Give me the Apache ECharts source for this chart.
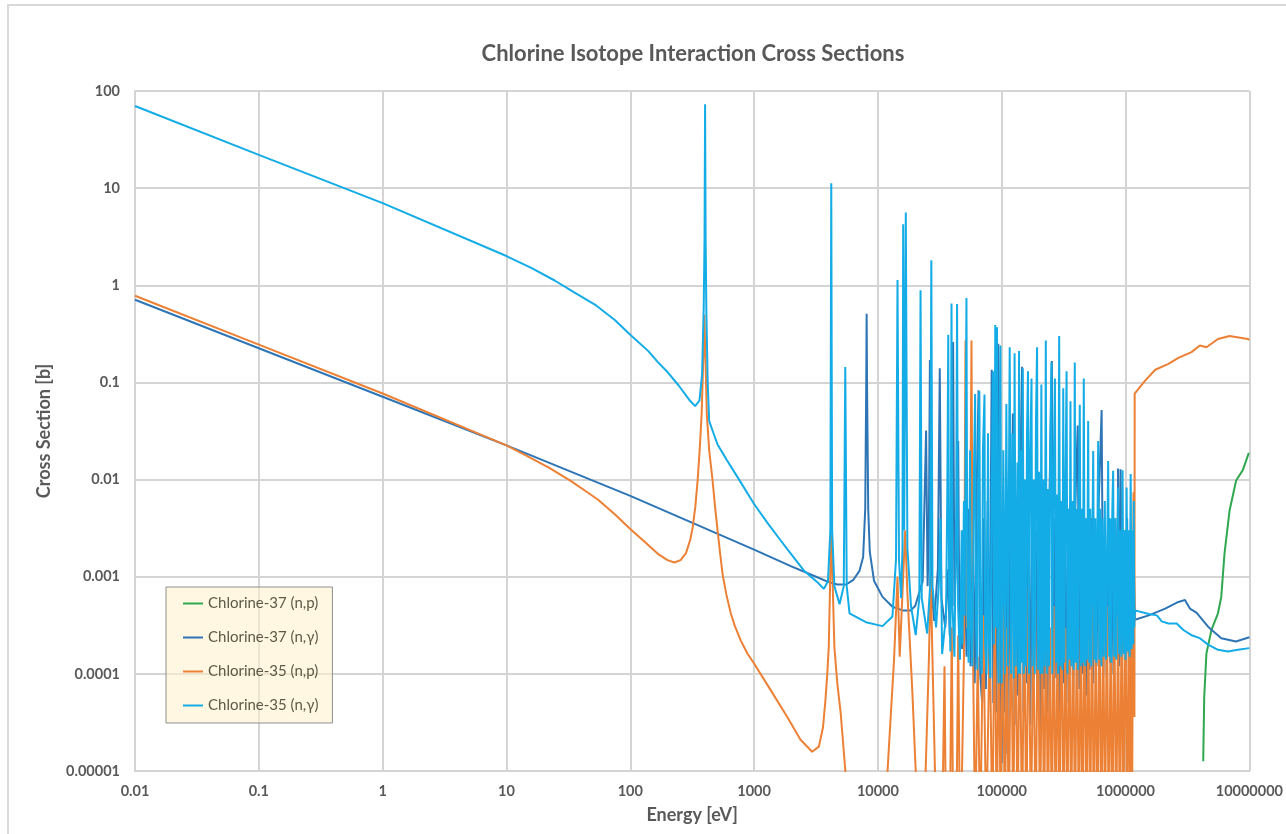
<!DOCTYPE html>
<html lang="en">
<head>
<meta charset="UTF-8">
<title>Chlorine Isotope Interaction Cross Sections</title>
<script src="https://cdn.jsdelivr.net/npm/echarts@6/dist/echarts.min.js"></script>
<style>
  html, body { margin: 0; padding: 0; background: #fff; }
  #chart { width: 1286px; height: 834px; }
</style>
</head>
<body>
<div id="chart"></div>
<script>
// legend / series names, in the order used by the original chart
var seriesNames = ['Chlorine-37 (n,p)', 'Chlorine-37 (n,γ)', 'Chlorine-35 (n,p)', 'Chlorine-35 (n,γ)'];

var xTickLabels = ['0.01', '0.1', '1', '10', '100', '1000', '10000', '100000', '1000000', '10000000'];
var yTickLabels = ['0.00001', '0.0001', '0.001', '0.01', '0.1', '1', '10', '100'];

// [energy eV, cross section b]
var cl37np = [
  [4.24e6, 1.26e-5], [4.32e6, 5.8e-5], [4.5e6, 1.62e-4], [4.94e6, 2.83e-4], [5.58e6, 4.2e-4],
  [5.93e6, 6.2e-4], [6.3e6, 1.74e-3], [6.92e6, 4.8e-3], [7.82e6, 9.8e-3], [8.85e6, 0.0125], [9.9e6, 0.0188]
];

var cl37ng = [
  [0.01, 0.71], [0.1, 0.225], [1, 0.0712], [10, 0.0225], [100, 0.0068], [1000, 0.0019], [2000, 0.00128],
  [3000, 0.00103], [4000, 0.00088], [4700, 0.00083], [5500, 0.00083], [6300, 0.00092], [7100, 0.00115],
  [7600, 0.0016], [7900, 0.005], [8050, 0.1], [8110, 0.51], [8170, 0.1], [8350, 0.005], [8600, 0.0018],
  [9300, 0.00091], [10900, 0.00062], [13100, 0.00049], [15800, 0.00045], [18400, 0.00045], [20000, 0.0005],
  [23000, 0.0009], [24500, 0.032], [25200, 0.0008], [25800, 0.003], [26300, 0.17], [26900, 0.0008],
  [28500, 0.00035], [30500, 0.0012], [31600, 0.14], [32600, 0.0006], [35000, 0.0003], [37000, 0.0012],
  [38000, 0.00025], [39500, 0.003], [40500, 0.26], [41500, 0.0005], [43500, 0.003], [44500, 0.025],
  [45500, 0.0003], [48000, 0.00018], [50000, 0.002], [52000, 0.00015], [54500, 0.005], [56000, 0.00012],
  [58500, 0.003], [60500, 0.00008], [63000, 0.01], [65000, 0.083], [67000, 0.0001], [69500, 0.00005],
  [72000, 0.004], [74500, 0.00007], [77000, 0.006], [79500, 0.00006], [83000, 0.135], [85500, 0.00005],
  [88000, 0.004], [90500, 0.00004], [93700, 0.25], [96000, 0.26], [98000, 0.00003], [1.00e5, 0.000012],
  [1.02e5, 0.002], [1.05e5, 0.00004], [1.08e5, 0.005], [1.11e5, 0.000015], [1.14e5, 0.003], [1.18e5, 0.00005],
  [1.23e5, 0.048], [1.27e5, 0.00003], [1.31e5, 0.004], [1.35e5, 0.00006], [1.40e5, 0.006], [1.46e5, 0.145],
  [1.50e5, 0.00004], [1.55e5, 0.003], [1.60e5, 0.00008], [1.65e5, 0.005], [1.70e5, 0.00003], [1.76e5, 0.004],
  [1.82e5, 0.00009], [1.88e5, 0.003], [1.94e5, 0.00005], [2.00e5, 0.006], [2.06e5, 0.000025], [2.13e5, 0.004],
  [2.20e5, 0.00007], [2.27e5, 0.003], [2.34e5, 0.00004], [2.42e5, 0.005], [2.54e5, 0.166], [2.60e5, 0.00005],
  [2.68e5, 0.004], [2.76e5, 0.00009], [2.85e5, 0.003], [2.94e5, 0.00004], [3.03e5, 0.004], [3.13e5, 0.00008],
  [3.23e5, 0.003], [3.33e5, 0.00005], [3.44e5, 0.005], [3.55e5, 0.0001], [3.66e5, 0.003], [3.78e5, 0.00006],
  [3.90e5, 0.004], [4.11e5, 0.036], [4.24e5, 0.00007], [4.38e5, 0.003], [4.52e5, 0.0001], [4.66e5, 0.004],
  [4.81e5, 0.00006], [4.97e5, 0.003], [5.13e5, 0.00011], [5.30e5, 0.004], [5.47e5, 0.00008], [5.65e5, 0.003],
  [5.83e5, 0.00012], [6.02e5, 0.004], [6.41e5, 0.052], [6.62e5, 0.0001], [6.83e5, 0.003], [7.05e5, 0.00009],
  [7.28e5, 0.004], [7.50e5, 0.00013], [7.74e5, 0.003], [7.99e5, 0.0001], [8.25e5, 0.004], [8.52e5, 0.00015],
  [8.70e5, 0.013], [8.90e5, 0.00012], [9.12e5, 0.0128], [9.40e5, 0.00014], [9.70e5, 0.003], [1.00e6, 0.00012],
  [1.03e6, 0.004], [1.06e6, 0.00016], [1.10e6, 0.003], [1.14e6, 0.00018], [1.16e6, 0.002], [1.19e6, 0.00036],
  [1.54e6, 0.0004], [2.09e6, 0.00047], [2.67e6, 0.00055], [3.02e6, 0.000575], [3.31e6, 0.00047],
  [3.74e6, 0.000427], [4.64e6, 0.000306], [5.93e6, 0.000233], [7.8e6, 0.000215], [1e7, 0.000238]
];

var cl35np = [
  [0.01, 0.78], [0.1, 0.245], [1, 0.077], [10, 0.0225], [15, 0.0172], [22, 0.0133], [33, 0.0097],
  [45, 0.0074], [55, 0.0062], [75, 0.0044], [100, 0.0031], [130, 0.0023], [167, 0.00172], [200, 0.00148],
  [227, 0.0014], [255, 0.00148], [282, 0.00175], [305, 0.0024], [319, 0.0032], [335, 0.0052], [350, 0.0098],
  [365, 0.022], [377, 0.047], [390, 0.2], [396, 0.5], [404, 0.2], [415, 0.047], [434, 0.02], [462, 0.0098],
  [485, 0.0051], [507, 0.003], [530, 0.0018], [556, 0.00107], [598, 0.00065], [648, 0.00042], [700, 0.00031],
  [781, 0.00022], [883, 0.000162], [1000, 0.000128], [1361, 0.000068], [1853, 0.000036], [2372, 0.000021],
  [2944, 0.0000158], [3333, 0.0000178], [3600, 0.000028], [3770, 0.000054], [3900, 0.0001], [4010, 0.00019],
  [4150, 0.0015], [4200, 0.0027], [4260, 0.0015], [4450, 0.00019], [4700, 0.00008], [5000, 0.00004],
  [5460, 0.00001], [6000, 0.000002],
  [11000, 0.000002], [11960, 0.00001], [13500, 0.00014], [14400, 0.001], [15000, 0.00015], [16000, 0.001],
  [16600, 0.003], [17300, 0.00068], [19000, 0.000063], [20200, 0.00001], [21000, 0.000002],
  [24000, 0.000002], [24300, 0.00001], [25800, 0.00014], [26700, 0.001], [27600, 0.00014], [28900, 0.00001],
  [30000, 0.000002], [33000, 0.000002], [34500, 0.00012], [35500, 0.000002], [38000, 0.000002],
  [39500, 0.0003], [40500, 0.000002], [43000, 0.000002], [44500, 0.00025], [46000, 0.000002],
  [47800, 0.00001], [49500, 0.00015], [51000, 0.27], [52500, 0.0003], [55000, 0.0003], [57000, 0.27],
  [58500, 0.0002], [61000, 0.000002], [64000, 0.00015], [67000, 0.000002], [71000, 0.0004],
  [75000, 0.000002], [80000, 0.0003], [84000, 0.000002], [88000, 0.0008], [91000, 0.000002],
  [95000, 0.0003], [98000, 0.000002], [1.02e5, 0.0005], [1.06e5, 0.000002], [1.10e5, 0.0003],
  [1.14e5, 0.000002], [1.19e5, 0.0006], [1.24e5, 0.000002], [1.29e5, 0.001], [1.34e5, 0.000002],
  [1.40e5, 0.0004], [1.46e5, 0.000002], [1.52e5, 0.0005], [1.58e5, 0.000002], [1.65e5, 0.0008],
  [1.72e5, 0.000002], [1.80e5, 0.0003], [1.88e5, 0.000002], [1.96e5, 0.0006], [2.04e5, 0.000002],
  [2.12e5, 0.0004], [2.20e5, 0.000002], [2.28e5, 0.0007], [2.36e5, 0.000002], [2.45e5, 0.0003],
  [2.54e5, 0.000002], [2.63e5, 0.0005], [2.73e5, 0.000002], [2.83e5, 0.0004], [2.93e5, 0.000002],
  [3.04e5, 0.0008], [3.15e5, 0.000002], [3.27e5, 0.0003], [3.39e5, 0.000002], [3.51e5, 0.0006],
  [3.64e5, 0.000002], [3.77e5, 0.0004], [3.91e5, 0.000002], [4.05e5, 0.0005], [4.20e5, 0.000002],
  [4.35e5, 0.0003], [4.50e5, 0.000002], [4.66e5, 0.0007], [4.83e5, 0.000002], [5.00e5, 0.0004],
  [5.18e5, 0.000002], [5.36e5, 0.0005], [5.55e5, 0.000002], [5.75e5, 0.0003], [5.95e5, 0.000002],
  [6.16e5, 0.0006], [6.38e5, 0.000002], [6.60e5, 0.0004], [6.83e5, 0.000002], [7.07e5, 0.0005],
  [7.32e5, 0.000002], [7.58e5, 0.0003], [7.84e5, 0.000002], [8.11e5, 0.0006], [8.40e5, 0.000002],
  [8.70e5, 0.0004], [9.00e5, 0.000002], [9.30e5, 0.0005], [9.62e5, 0.000002], [9.95e5, 0.001],
  [1.03e6, 0.000002], [1.06e6, 0.0003], [1.09e6, 0.000003], [1.11e6, 0.002], [1.13e6, 0.000005],
  [1.16e6, 0.0074], [1.17e6, 0.00004], [1.18e6, 0.000036], [1.185e6, 0.0766], [1.445e6, 0.105],
  [1.74e6, 0.135], [2.22e6, 0.155], [2.67e6, 0.179], [3.41e6, 0.205], [3.98e6, 0.24], [4.5e6, 0.23],
  [5.58e6, 0.28], [6.92e6, 0.30], [9.7e6, 0.28], [1e7, 0.275]
];

var cl35ng = [
  [0.01, 70], [0.1, 22], [1, 7.0], [10, 2.0], [16, 1.5], [24.5, 1.12], [35, 0.85], [53, 0.62], [75, 0.44],
  [100, 0.31], [140, 0.21], [167, 0.162], [200, 0.128], [246, 0.093], [300, 0.066], [334, 0.057],
  [362, 0.065], [380, 0.12], [392, 0.6], [398, 3], [402, 73], [406, 3], [412, 0.5], [422, 0.1], [434, 0.04],
  [470, 0.03], [507, 0.023], [600, 0.016], [735, 0.0106], [1000, 0.0056], [1300, 0.0035], [1640, 0.00236],
  [2000, 0.0017], [2520, 0.00116], [3300, 0.00086], [3660, 0.00075], [3950, 0.0009], [4130, 0.003],
  [4200, 11.2], [4270, 0.003], [4450, 0.0008], [4900, 0.00052], [5300, 0.0008], [5450, 0.144],
  [5600, 0.0008], [5900, 0.00042], [8000, 0.00034], [10900, 0.00031], [13100, 0.00039], [14000, 0.0015],
  [14400, 1.13], [14800, 0.0015], [15400, 0.0006], [15800, 0.002], [16000, 4.25], [16300, 0.003],
  [16800, 5.6], [17300, 0.002], [18500, 0.0005], [20200, 0.00025], [21600, 0.0006], [22100, 0.89],
  [22600, 0.0006], [25000, 0.00026], [26400, 0.0008], [27000, 1.81], [27600, 0.0008], [29500, 0.0003],
  [31000, 0.0008], [32000, 0.004], [33000, 0.00016], [35500, 0.0004], [36300, 0.006], [37000, 0.31],
  [37600, 0.0006], [38500, 0.00017], [39300, 0.65], [40000, 0.0005], [41500, 0.00015], [42800, 0.004],
  [43600, 0.64], [44400, 0.0005], [46000, 0.00014], [47500, 0.003], [48200, 0.0002], [49500, 0.006],
  [50200, 0.0004], [51900, 0.74], [52800, 0.0004], [54000, 0.00013], [55500, 0.02], [56500, 0.0003],
  [58000, 0.00012], [59500, 0.01], [61000, 0.076], [62000, 0.0003], [63500, 0.00011], [65000, 0.03],
  [66000, 0.081], [67200, 0.0002], [69000, 0.0001], [70500, 0.02], [72600, 0.075], [73500, 0.0002],
  [75500, 0.0001], [77500, 0.03], [79000, 0.0002], [81000, 0.00009], [83000, 0.008], [85000, 0.13],
  [86500, 0.0002], [88700, 0.39], [90000, 0.0003], [91600, 0.37], [93000, 0.0002], [94500, 0.00008],
  [96000, 0.03], [97600, 0.24], [99000, 0.0002],
  [1.00e5, 0.00008], [1.03e5, 0.02], [1.06e5, 0.0001], [1.09e5, 0.06], [1.12e5, 0.00012], [1.16e5, 0.23],
  [1.19e5, 0.0001], [1.22e5, 0.03], [1.25e5, 0.00009], [1.27e5, 0.2], [1.30e5, 0.00012], [1.34e5, 0.015],
  [1.36e5, 0.0001], [1.38e5, 0.21], [1.41e5, 0.0001], [1.44e5, 0.02], [1.46e5, 0.00013], [1.48e5, 0.14],
  [1.51e5, 0.0001], [1.54e5, 0.01], [1.57e5, 0.00012], [1.60e5, 0.03], [1.63e5, 0.13], [1.66e5, 0.0001],
  [1.70e5, 0.02], [1.74e5, 0.11], [1.77e5, 0.00012], [1.81e5, 0.01], [1.85e5, 0.0001], [1.89e5, 0.04],
  [1.93e5, 0.23], [1.96e5, 0.00011], [2.00e5, 0.012], [2.05e5, 0.0001], [2.09e5, 0.095], [2.13e5, 0.0001],
  [2.18e5, 0.01], [2.22e5, 0.00012], [2.27e5, 0.27], [2.31e5, 0.0001], [2.36e5, 0.008], [2.41e5, 0.00012],
  [2.46e5, 0.02], [2.52e5, 0.16], [2.56e5, 0.0001], [2.62e5, 0.009], [2.69e5, 0.11], [2.74e5, 0.00013],
  [2.80e5, 0.007], [2.85e5, 0.0001], [2.91e5, 0.30], [2.97e5, 0.00012], [3.03e5, 0.006], [3.09e5, 0.00011],
  [3.14e5, 0.087], [3.20e5, 0.00013], [3.27e5, 0.007], [3.34e5, 0.13], [3.40e5, 0.0001], [3.47e5, 0.005],
  [3.52e5, 0.00014], [3.59e5, 0.064], [3.66e5, 0.00012], [3.73e5, 0.006], [3.81e5, 0.00011], [3.89e5, 0.16],
  [3.96e5, 0.00013], [4.04e5, 0.005], [4.12e5, 0.00011], [4.19e5, 0.004], [4.27e5, 0.059], [4.35e5, 0.00012],
  [4.44e5, 0.005], [4.52e5, 0.00013], [4.60e5, 0.11], [4.69e5, 0.00012], [4.78e5, 0.004], [4.88e5, 0.00014],
  [4.99e5, 0.04], [5.09e5, 0.00013], [5.19e5, 0.005], [5.30e5, 0.00012], [5.48e5, 0.0197], [5.59e5, 0.00014],
  [5.70e5, 0.004], [5.81e5, 0.00013], [6.01e5, 0.025], [6.13e5, 0.00014], [6.25e5, 0.005], [6.38e5, 0.00012],
  [6.50e5, 0.004], [6.65e5, 0.00015], [6.80e5, 0.006], [6.95e5, 0.00014], [7.24e5, 0.0155], [7.38e5, 0.00015],
  [7.52e5, 0.004], [7.67e5, 0.00013], [7.82e5, 0.005], [7.94e5, 0.0123], [8.10e5, 0.00015], [8.26e5, 0.004],
  [8.42e5, 0.00014], [8.71e5, 0.0083], [8.88e5, 0.00016], [9.05e5, 0.003], [9.25e5, 0.00015], [9.46e5, 0.0125],
  [9.65e5, 0.00016], [9.85e5, 0.003], [1.00e6, 0.00014], [1.02e6, 0.0083], [1.04e6, 0.00017], [1.06e6, 0.003],
  [1.08e6, 0.00015], [1.10e6, 0.0114], [1.12e6, 0.00018], [1.14e6, 0.003], [1.155e6, 0.0002], [1.165e6, 0.006],
  [1.175e6, 0.0003], [1.19e6, 0.00045],
  [1.54e6, 0.000413], [1.79e6, 0.0004], [1.96e6, 0.000347], [2.22e6, 0.00033], [2.59e6, 0.00033],
  [2.93e6, 0.000283], [3.41e6, 0.00025], [3.98e6, 0.000233], [4.64e6, 0.0002], [5.58e6, 0.000177],
  [6.71e6, 0.00017], [8.07e6, 0.000177], [1e7, 0.000184]
];

var chart = echarts.init(document.getElementById('chart'));

function lineSeries(name, data, color) {
  return {
    name: name,
    type: 'line',
    data: data,
    showSymbol: false,
    clip: true,
    lineStyle: { color: color, width: 2 },
    itemStyle: { color: color }
  };
}

var labelFont = { color: '#595959', fontWeight: 'bold', fontSize: 14.5, fontFamily: 'Lato' };
var nameFont = { color: '#595959', fontWeight: 'bold', fontSize: 18, fontFamily: 'Lato' };
var gridGray = '#D4D4D4';

chart.setOption({
  animation: false,
  backgroundColor: '#fff',
  title: {
    text: 'Chlorine Isotope Interaction Cross Sections',
    left: 688,
    textAlign: 'center',
    top: 38,
    textStyle: { color: '#595959', fontSize: 22, fontWeight: 'bold', fontFamily: 'Lato' }
  },
  graphic: [{
    type: 'rect',
    shape: { x: 8, y: 5, width: 1320, height: 900 },
    style: { fill: 'none', stroke: '#D9D9D9', lineWidth: 2 },
    silent: true
  }],
  grid: { left: 135, right: 31, top: 91, bottom: 63 },
  legend: {
    orient: 'vertical',
    left: 166,
    top: 587,
    icon: 'rect',
    itemWidth: 20,
    itemHeight: 2,
    itemGap: 19,
    padding: [9, 14, 10, 17],
    backgroundColor: 'rgba(255, 240, 200, 0.55)',
    borderColor: '#8F8F8F',
    borderWidth: 1,
    textStyle: { color: '#5c5a45', fontSize: 15, fontFamily: 'Lato' },
    data: seriesNames
  },
  xAxis: {
    type: 'log',
    logBase: 10,
    min: 0.01,
    max: 1e7,
    interval: 1,
    name: 'Energy [eV]',
    nameLocation: 'middle',
    nameGap: 35,
    nameTextStyle: nameFont,
    axisLine: { show: true, lineStyle: { color: gridGray, width: 2 } },
    axisTick: { show: false },
    axisLabel: Object.assign({
      margin: 13,
      formatter: function (v) { return xTickLabels[Math.round(Math.log10(v)) + 2] || ''; }
    }, labelFont),
    splitLine: { show: true, lineStyle: { color: gridGray, width: 2 } }
  },
  yAxis: {
    type: 'log',
    logBase: 10,
    min: 1e-5,
    max: 100,
    interval: 1,
    name: 'Cross Section [b]',
    nameLocation: 'middle',
    nameRotate: 90,
    nameGap: 82,
    nameTextStyle: nameFont,
    axisLine: { show: true, lineStyle: { color: gridGray, width: 2 } },
    axisTick: { show: false },
    axisLabel: Object.assign({
      margin: 15,
      formatter: function (v) { return yTickLabels[Math.round(Math.log10(v)) + 5] || ''; }
    }, labelFont),
    splitLine: { show: true, lineStyle: { color: gridGray, width: 2 } }
  },
  series: [
    lineSeries(seriesNames[0], cl37np, '#2FA84F'),
    lineSeries(seriesNames[1], cl37ng, '#2E75B6'),
    lineSeries(seriesNames[2], cl35np, '#EC8035'),
    lineSeries(seriesNames[3], cl35ng, '#14ACE6')
  ]
});
</script>
</body>
</html>
